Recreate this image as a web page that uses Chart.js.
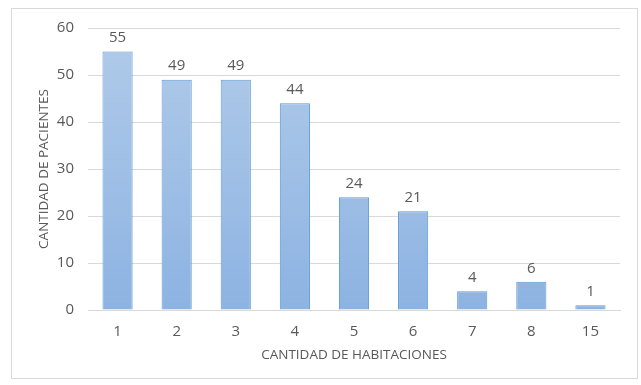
<!DOCTYPE html>
<html lang="es">
<head>
<meta charset="UTF-8">
<title>Cantidad de habitaciones</title>
<style>
  html, body { margin: 0; padding: 0; background: #fff; }
  .wrap { position: relative; width: 641px; height: 385px; }
</style>
<script src="https://cdn.jsdelivr.net/npm/chart.js"></script>
</head>
<body>
<div class="wrap"><canvas id="chart" width="641" height="385"></canvas></div>
<script>
const categories = ['1', '2', '3', '4', '5', '6', '7', '8', '15'];
const patientCounts = [55, 49, 49, 44, 24, 21, 4, 6, 1];
const yTicks = [0, 10, 20, 30, 40, 50, 60];

const FONT = "'Open Sans', 'Liberation Sans', sans-serif";
const GREY = '#595959';

// outer frame around the whole chart
const framePlugin = {
  id: 'frame',
  beforeDraw(chart) {
    const ctx = chart.ctx;
    ctx.save();
    ctx.fillStyle = '#fff';
    ctx.fillRect(0, 0, chart.width, chart.height);
    ctx.strokeStyle = '#d9d9d9';
    ctx.lineWidth = 1;
    ctx.strokeRect(11.5, 8.5, 626, 370);
    ctx.restore();
  }
};

// value labels above each bar
const labelPlugin = {
  id: 'barLabels',
  afterDatasetsDraw(chart) {
    const ctx = chart.ctx;
    const meta = chart.getDatasetMeta(0);
    ctx.save();
    ctx.font = '15px ' + FONT;
    ctx.fillStyle = GREY;
    ctx.textAlign = 'center';
    ctx.textBaseline = 'bottom';
    meta.data.forEach((bar, i) => {
      ctx.fillText(patientCounts[i], bar.x, bar.y - 6);
    });
    ctx.restore();
  }
};

const canvas = document.getElementById('chart');
const ctx0 = canvas.getContext('2d');
const grad = ctx0.createLinearGradient(0, 28, 0, 310);
grad.addColorStop(0, '#b1cbe9');
grad.addColorStop(1, '#8db3e2');

new Chart(canvas, {
  type: 'bar',
  data: {
    labels: categories,
    datasets: [{
      data: patientCounts,
      backgroundColor: grad,
      borderColor: '#5b9bd5',
      borderWidth: 1,
      borderSkipped: 'bottom',
      barPercentage: 0.51,
      categoryPercentage: 1.0
    }]
  },
  options: {
    responsive: false,
    animation: false,
    layout: { padding: { left: 30, right: 21, top: 28, bottom: 22 } },
    plugins: { legend: { display: false }, tooltip: { enabled: false } },
    scales: {
      x: {
        afterFit(axis) { axis.height = 53; },
        grid: { display: false, drawTicks: false },
        border: { color: '#d9d9d9' },
        ticks: { color: GREY, font: { family: FONT, size: 15 }, padding: 13 },
        title: {
          display: true, text: 'CANTIDAD DE HABITACIONES', color: GREY,
          font: { family: FONT, size: 13.5 }, padding: 0
        }
      },
      y: {
        min: 0, max: 60,
        afterBuildTicks(axis) { axis.ticks = yTicks.map(v => ({ value: v })); },
        afterFit(axis) { axis.width = 58; },
        grid: { color: '#d9d9d9', drawTicks: false },
        border: { display: false },
        ticks: { color: GREY, font: { family: FONT, size: 15 }, padding: 14 },
        title: {
          display: true, text: 'CANTIDAD DE PACIENTES', color: GREY,
          font: { family: FONT, size: 13.5 }, padding: { top: 6, bottom: 0 }
        }
      }
    }
  },
  plugins: [framePlugin, labelPlugin]
});
</script>
</body>
</html>
